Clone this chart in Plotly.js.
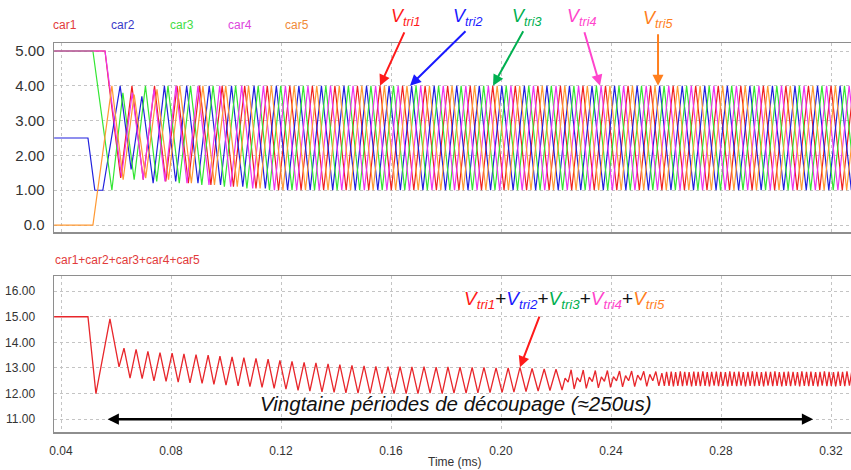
<!DOCTYPE html>
<html><head><meta charset="utf-8">
<script src="https://cdn.plot.ly/plotly-3.0.1.min.js"></script>
<style>html,body{margin:0;padding:0;background:#fff}#chart{width:851px;height:470px}</style>
</head><body><div id="chart"></div>
<script>
// ---- data (times in ms, values in V) ----
const car1T=[0.0375,0.0560,0.0575,0.0617,0.0658,0.0699,0.0740,0.0781,0.0822,0.0863,0.0904,0.0945,0.0986,0.1027,0.1068,0.1109,0.1150,0.1191,0.1232,0.1273,0.1314,0.1355,0.1396,0.1437,0.1478,0.1519,0.1560,0.1601,0.1642,0.1683,0.1724,0.1765,0.1806,0.1847,0.1888,0.1929,0.1970,0.2011,0.2052,0.2093,0.2134,0.2175,0.2216,0.2257,0.2298,0.2339,0.2380,0.2421,0.2462,0.2503,0.2544,0.2585,0.2626,0.2667,0.2708,0.2749,0.2790,0.2831,0.2872,0.2913,0.2954,0.2995,0.3036,0.3077,0.3118,0.3159,0.3200,0.3241,0.3282];
const car1V=[5,5,4,1.35,4,1.3,4,1.25,4,1.2,4,1.15,4,1.1,4,1.05,4,1,4,1,4,1,4,1,4,1,4,1,4,1,4,1,4,1,4,1,4,1,4,1,4,1,4,1,4,1,4,1,4,1,4,1,4,1,4,1,4,1,4,1,4,1,4,1,4,1,4,1,4];
const car2T=[0.0375,0.0498,0.0523,0.0552,0.0615,0.0655,0.0694,0.0735,0.0776,0.0817,0.0857,0.0898,0.0939,0.0980,0.1020,0.1061,0.1102,0.1143,0.1183,0.1224,0.1265,0.1306,0.1347,0.1388,0.1429,0.1470,0.1511,0.1552,0.1593,0.1634,0.1675,0.1716,0.1757,0.1798,0.1839,0.1880,0.1921,0.1962,0.2003,0.2044,0.2085,0.2126,0.2167,0.2208,0.2249,0.2290,0.2331,0.2372,0.2413,0.2454,0.2495,0.2536,0.2577,0.2618,0.2659,0.2700,0.2741,0.2782,0.2823,0.2864,0.2905,0.2946,0.2987,0.3028,0.3069,0.3110,0.3151,0.3192,0.3233,0.3274,0.3315];
const car2V=[2.5,2.5,1,1,4,1.6,3.7,1.2,4,1.25,4,1.2,4,1.15,4,1.1,4,1.05,4,1,4,1,4,1,4,1,4,1,4,1,4,1,4,1,4,1,4,1,4,1,4,1,4,1,4,1,4,1,4,1,4,1,4,1,4,1,4,1,4,1,4,1,4,1,4,1,4,1,4,1,4];
const car3T=[0.0375,0.0516,0.0585,0.0625,0.0666,0.0707,0.0748,0.0789,0.0830,0.0871,0.0912,0.0953,0.0994,0.1035,0.1076,0.1117,0.1158,0.1199,0.1240,0.1281,0.1322,0.1363,0.1404,0.1445,0.1486,0.1527,0.1568,0.1609,0.1650,0.1691,0.1732,0.1773,0.1814,0.1855,0.1896,0.1937,0.1978,0.2019,0.2060,0.2101,0.2142,0.2183,0.2224,0.2265,0.2306,0.2347,0.2388,0.2429,0.2470,0.2511,0.2552,0.2593,0.2634,0.2675,0.2716,0.2757,0.2798,0.2839,0.2880,0.2921,0.2962,0.3003,0.3044,0.3085,0.3126,0.3167,0.3208,0.3249,0.3290];
const car3V=[5,5,1,3.8,1.3,4,1.25,4,1.2,4,1.15,4,1.1,4,1.05,4,1,4,1,4,1,4,1,4,1,4,1,4,1,4,1,4,1,4,1,4,1,4,1,4,1,4,1,4,1,4,1,4,1,4,1,4,1,4,1,4,1,4,1,4,1,4,1,4,1,4,1,4,1];
const car4T=[0.0375,0.0560,0.0620,0.0659,0.0699,0.0738,0.0778,0.0818,0.0858,0.0898,0.0938,0.0977,0.1017,0.1057,0.1097,0.1136,0.1176,0.1216,0.1257,0.1298,0.1339,0.1380,0.1421,0.1462,0.1503,0.1544,0.1585,0.1626,0.1667,0.1708,0.1749,0.1790,0.1831,0.1872,0.1913,0.1954,0.1995,0.2036,0.2077,0.2118,0.2159,0.2200,0.2241,0.2282,0.2323,0.2364,0.2405,0.2446,0.2487,0.2528,0.2569,0.2610,0.2651,0.2692,0.2733,0.2774,0.2815,0.2856,0.2897,0.2938,0.2979,0.3020,0.3061,0.3102,0.3143,0.3184,0.3225,0.3266,0.3307];
const car4V=[5,5,1.4,3.8,1.3,3.9,1.25,4,1.2,4,1.15,4,1.1,4,1.05,4,1,4,1,4,1,4,1,4,1,4,1,4,1,4,1,4,1,4,1,4,1,4,1,4,1,4,1,4,1,4,1,4,1,4,1,4,1,4,1,4,1,4,1,4,1,4,1,4,1,4,1,4,1];
const car5T=[0.0375,0.0516,0.0585,0.0626,0.0666,0.0708,0.0749,0.0791,0.0832,0.0874,0.0916,0.0958,0.0999,0.1041,0.1082,0.1124,0.1165,0.1207,0.1248,0.1289,0.1330,0.1371,0.1412,0.1453,0.1494,0.1535,0.1576,0.1617,0.1658,0.1699,0.1740,0.1781,0.1822,0.1863,0.1904,0.1945,0.1986,0.2027,0.2068,0.2109,0.2150,0.2191,0.2232,0.2273,0.2314,0.2355,0.2396,0.2437,0.2478,0.2519,0.2560,0.2601,0.2642,0.2683,0.2724,0.2765,0.2806,0.2847,0.2888,0.2929,0.2970,0.3011,0.3052,0.3093,0.3134,0.3175,0.3216,0.3257,0.3298];
const car5V=[0,0,4,1.3,3.75,1.35,3.9,1.3,4,1.2,4,1.15,4,1.1,4,1.05,4,1,4,1,4,1,4,1,4,1,4,1,4,1,4,1,4,1,4,1,4,1,4,1,4,1,4,1,4,1,4,1,4,1,4,1,4,1,4,1,4,1,4,1,4,1,4,1,4,1,4,1,4];
const sumT=[0.0375,0.0498,0.0527,0.0578,0.0611,0.0629,0.0651,0.0673,0.0695,0.0716,0.0738,0.0760,0.0782,0.0804,0.0826,0.0847,0.0869,0.0891,0.0913,0.0935,0.0956,0.0978,0.1000,0.1022,0.1044,0.1065,0.1087,0.1109,0.1131,0.1153,0.1175,0.1196,0.1218,0.1240,0.1262,0.1284,0.1305,0.1327,0.1349,0.1371,0.1393,0.1414,0.1436,0.1458,0.1480,0.1502,0.1524,0.1545,0.1567,
0.1589,0.1611,0.1633,0.1655,0.1676,0.1698,0.1720,0.1742,0.1764,0.1786,0.1807,0.1829,0.1851,0.1873,0.1895,0.1916,0.1938,0.1960,0.1982,0.2004,0.2026,0.2047,0.2069,0.2091,0.2113,0.2135,0.2157,0.2178,0.2200,0.2222,
0.2233,0.2244,0.2255,0.2266,0.2277,0.2288,0.2299,0.2310,0.2321,0.2332,0.2343,0.2354,0.2365,0.2376,0.2387,0.2398,0.2409,0.2420,0.2431,0.2442,0.2453,0.2464,0.2475,0.2486,0.2497,0.2508,0.2519,0.2530,0.2541,0.2552,0.2563,0.2574,0.2585,0.2594,
0.2602,0.2611,0.2619,0.2627,0.2635,0.2643,0.2652,0.2660,0.2668,0.2676,0.2684,0.2693,0.2701,0.2709,0.2717,0.2725,0.2734,0.2742,0.2750,0.2758,0.2766,0.2775,0.2783,0.2791,0.2799,0.2807,0.2816,0.2824,0.2832,0.2840,0.2848,0.2857,0.2865,0.2873,0.2881,0.2889,0.2898,0.2906,0.2914,0.2922,0.2930,0.2939,0.2947,0.2955,0.2963,0.2971,0.2980,0.2988,0.2996,0.3004,0.3012,0.3021,0.3029,0.3037,0.3045,0.3053,0.3062,0.3070,0.3078,0.3086,0.3094,0.3103,0.3111,0.3119,0.3127,0.3135,0.3144,0.3152,0.3160,0.3168,0.3176,0.3185,0.3193,0.3201,0.3209,0.3217,0.3226,0.3234,0.3242,0.3250,0.3258,0.3267,0.3275];
const sumV=[15,15,12.0,14.92,13.04,13.77,12.6,13.73,12.58,13.65,12.5,13.6,12.48,13.58,12.45,13.55,12.42,13.52,12.4,13.5,12.36,13.46,12.33,13.43,12.3,13.4,12.27,13.37,12.24,13.34,12.2,13.3,12.17,13.26,12.13,13.22,12.1,13.2,12.07,13.16,12.05,13.13,12.03,13.1,12.02,13.08,12.01,13.06,12.0,
13.05,12.0,13.05,12.0,13.04,12.0,13.05,12.02,13.03,12.0,13.04,12.02,13.03,12.02,13.02,12.03,13.02,12.04,13.0,12.05,13.0,12.06,13.02,12.08,12.98,12.1,12.96,12.12,12.95,12.14,
12.6,12.45,12.93,12.18,12.62,12.46,12.92,12.2,12.64,12.47,12.9,12.22,12.65,12.48,12.9,12.24,12.66,12.5,12.88,12.26,12.7,12.5,12.88,12.27,12.72,12.52,12.87,12.28,12.75,12.5,12.86,12.3,12.8,12.3,
12.85,12.3,12.86,12.28,12.84,12.3,12.87,12.29,12.85,12.31,12.84,12.28,12.86,12.3,12.85,12.29,12.87,12.3,12.84,12.28,12.85,12.31,12.86,12.29,12.85,12.3,12.84,12.28,12.87,12.3,12.85,12.29,12.86,12.31,12.84,12.28,12.85,12.3,12.87,12.29,12.85,12.3,12.84,12.28,12.86,12.31,12.85,12.29,12.87,12.3,12.84,12.28,12.85,12.3,12.86,12.29,12.85,12.31,12.84,12.28,12.87,12.3,12.85,12.29,12.86,12.3,12.84,12.28,12.85,12.31,12.87,12.29,12.85,12.3,12.84,12.28,12.86,12.3,12.85,12.29,12.87,12.31,12.84,12.28,12.85];
const carNames=['car1','car2','car3','car4','car5'];
const sumName='car1+car2+car3+car4+car5';
const xTickVals=[0.04,0.08,0.12,0.16,0.20,0.24,0.28,0.32];
const xTickText=['0.04','0.08','0.12','0.16','0.20','0.24','0.28','0.32'];
const xTitle='Time (ms)';
const topTickVals=[0,1,2,3,4,5];
const topTickText=['0.0','1.00','2.00','3.00','4.00','5.00'];
const botTickVals=[11,12,13,14,15,16];
const botTickText=['11.00','12.00','13.00','14.00','15.00','16.00'];
const triLabels=['tri1','tri2','tri3','tri4','tri5'];
// points the arrows designate (time ms, value)
const triArrowT=[0.1560,0.1669,0.1971,0.2360,0.2571];
const triArrowV=[4,4,4,4,4];
const sumArrowT=0.2069, sumArrowV=13.03;
const spanStart=0.0564, spanEnd=0.3135, spanLevel=11;

// ---- style ----
const W=851,H=470;
const lineColors=['#f02020','#2020dd','#33e633','#ee33ee','#ff9933'];
const legColors=['#e23b3b','#3a3ac8','#44dd44','#dd44dd','#f08a38'];
const triColors=['#ff1a1a','#1a1aff','#00b050','#ff44cc','#ff7f1e'];
const legX=[65,123,182,240,297];
const triTextPos=[[406,17],[468,17],[527,18],[582,17],[658,20]];
const triTail=[[25,-55],[57,-56],[31,-56],[-16,-55],[0,-53]];
const px=x=>x/W, py=y=>1-y/H;
const FONT='"Liberation Sans", Arial, sans-serif';

const carT=[car1T,car2T,car3T,car4T,car5T], carV=[car1V,car2V,car3V,car4V,car5V];
const traces=carT.map((t,i)=>({type:'scatter',mode:'lines',x:t,y:carV[i],name:carNames[i],xaxis:'x',yaxis:'y',line:{color:lineColors[i],width:1.2},hoverinfo:'skip'}));
traces.push({type:'scatter',mode:'lines',x:sumT,y:sumV,name:sumName,xaxis:'x2',yaxis:'y2',line:{color:'#e8262b',width:1.3},hoverinfo:'skip'});

const ann=[];
carNames.forEach((n,i)=>ann.push({xref:'paper',yref:'paper',x:px(legX[i]),y:py(25),text:n,showarrow:false,font:{size:12,color:legColors[i],family:FONT},xanchor:'center',yanchor:'middle'}));
ann.push({xref:'paper',yref:'paper',x:px(53),y:py(260),text:sumName,showarrow:false,font:{size:12,color:'#e23b3b',family:FONT},xanchor:'left',yanchor:'middle'});
triLabels.forEach((s,i)=>{
  ann.push({xref:'paper',yref:'paper',x:px(triTextPos[i][0]),y:py(triTextPos[i][1]),text:'<i>V<sub>'+s+'</sub></i>',showarrow:false,font:{size:18,color:triColors[i],family:FONT},xanchor:'center',yanchor:'middle'});
  ann.push({xref:'x',yref:'y',x:triArrowT[i],y:triArrowV[i],text:'',showarrow:true,ax:triTail[i][0],ay:triTail[i][1],arrowcolor:triColors[i],arrowwidth:2,arrowhead:2,arrowsize:1.1,standoff:0});
});
const combo=triLabels.map((s,i)=>'<span style="color:'+triColors[i]+'"><i>V<sub>'+s+'</sub></i></span>').join('<span style="color:#111">+</span>');
ann.push({xref:'paper',yref:'paper',x:px(564),y:py(300),text:combo,showarrow:false,font:{size:19,family:FONT},xanchor:'center',yanchor:'middle'});
ann.push({xref:'x2',yref:'y2',x:sumArrowT,y:sumArrowV,text:'',showarrow:true,ax:20,ay:-52,arrowcolor:'#ff1a1a',arrowwidth:2,arrowhead:2,arrowsize:1.1,standoff:0});
ann.push({xref:'paper',yref:'paper',x:px(456),y:py(403),text:'<i>Vingtaine périodes de découpage (≈250us)</i>',showarrow:false,font:{size:20.5,color:'#111',family:FONT},xanchor:'center',yanchor:'middle'});
ann.push({xref:'x2',yref:'y2',x:spanEnd,y:spanLevel,axref:'x2',ayref:'y2',ax:spanStart,ay:spanLevel,text:'',showarrow:true,arrowside:'end+start',arrowcolor:'#000',arrowwidth:2.5,arrowhead:2,arrowsize:0.9,standoff:0,startstandoff:0});
// x-axis title at the very bottom edge
ann.push({xref:'paper',yref:'paper',x:px(455),y:0,text:xTitle,showarrow:false,font:{size:12,color:'#333',family:FONT},xanchor:'center',yanchor:'bottom',borderpad:0});

const xr=[0.03745,0.32727];
const gridC='#c4c4c4', lineC='#8e8e8e';
const layout={
  width:W,height:H,margin:{l:0,r:0,t:0,b:0},paper_bgcolor:'#fff',plot_bgcolor:'#fff',showlegend:false,
  font:{family:FONT,color:'#333'},
  xaxis:{domain:[54/W,1],range:xr,anchor:'y',tickmode:'array',tickvals:xTickVals,showticklabels:false,ticks:'',showgrid:true,gridcolor:gridC,griddash:'dot',gridwidth:1,zeroline:false,showline:true,mirror:true,linecolor:lineC,linewidth:1.5},
  yaxis:{domain:[1-232/H,1-43/H],range:[-0.2,5.23],anchor:'x',tickmode:'array',tickvals:topTickVals,ticktext:topTickText,ticks:'',tickfont:{size:15,color:'#333'},ticklabelstandoff:5,showgrid:true,gridcolor:gridC,griddash:'dot',zeroline:false,showline:true,linecolor:lineC,linewidth:1.5},
  xaxis2:{domain:[54/W,1],range:xr,anchor:'y2',tickmode:'array',tickvals:xTickVals,ticktext:xTickText,ticks:'',tickfont:{size:12,color:'#333'},ticklabelstandoff:7,showgrid:true,gridcolor:gridC,griddash:'dot',zeroline:false,showline:true,mirror:true,linecolor:lineC,linewidth:1.5},
  yaxis2:{domain:[1-432/H,1-276/H],range:[10.5,16.59],anchor:'x2',tickmode:'array',tickvals:botTickVals,ticktext:botTickText,ticks:'',tickfont:{size:12,color:'#333'},ticklabelstandoff:15,showgrid:true,gridcolor:gridC,griddash:'dot',zeroline:false,showline:true,linecolor:lineC,linewidth:1.5},
  annotations:ann
};
Plotly.newPlot('chart',traces,layout,{staticPlot:true,displayModeBar:false});
</script></body></html>
